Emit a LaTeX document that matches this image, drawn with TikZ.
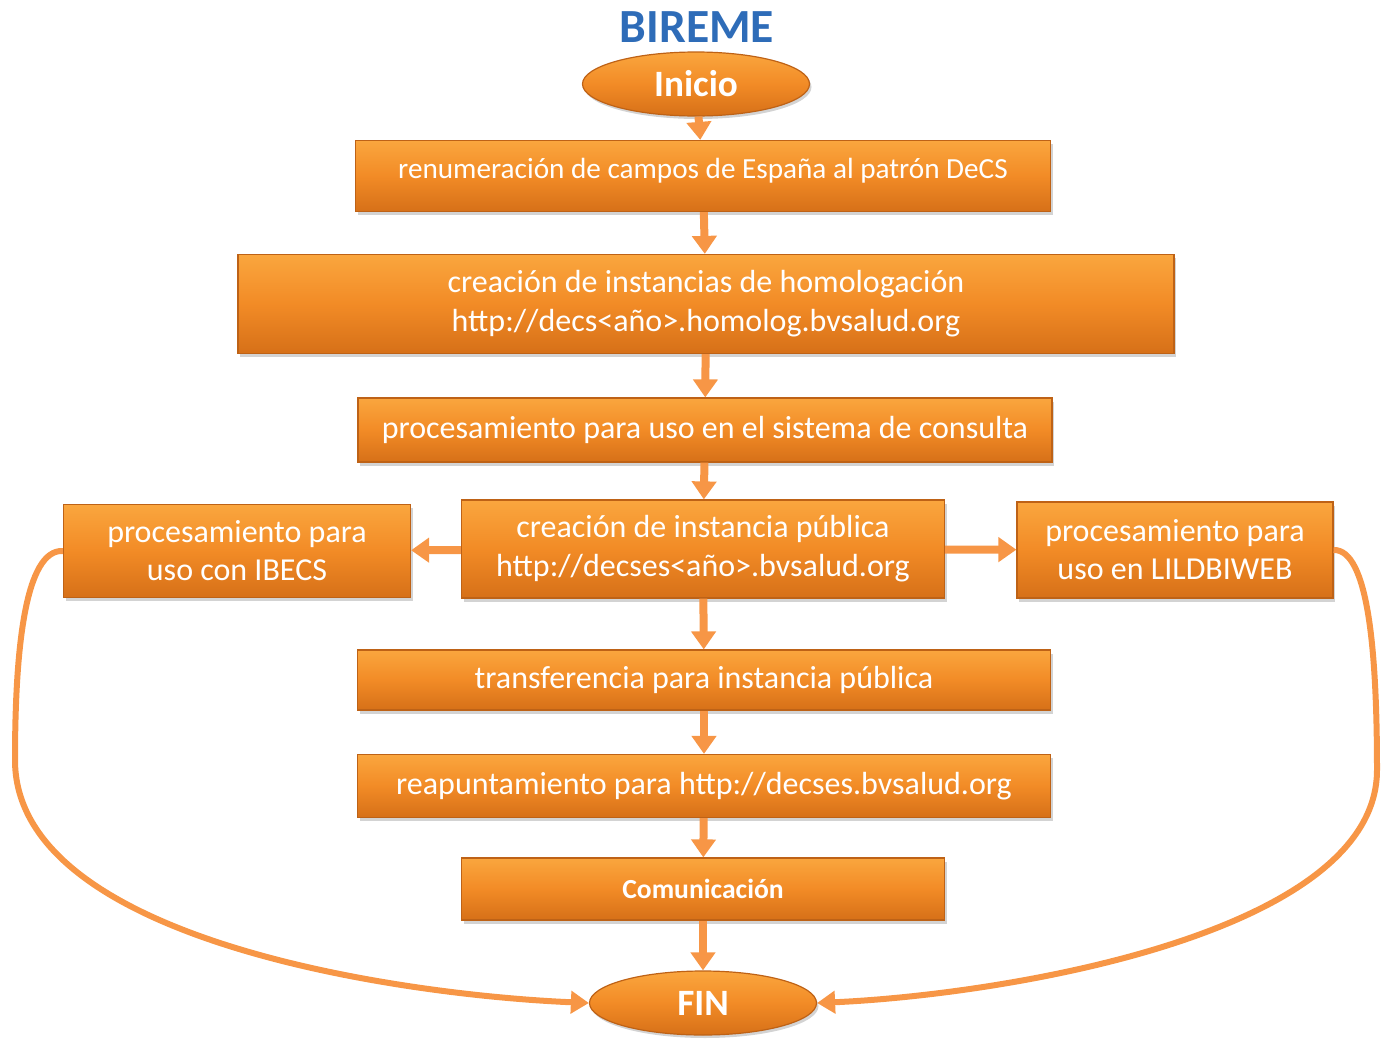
\documentclass[tikz,border=0pt]{standalone}
\usepackage{fontspec}
\setmainfont{Carlito}
\usetikzlibrary{shapes.geometric, arrows.meta, shadows}
\definecolor{orTop}{RGB}{250,166,62}
\definecolor{orMid}{RGB}{242,139,38}
\definecolor{orBot}{RGB}{214,112,24}
\definecolor{orLine}{RGB}{190,98,22}
\definecolor{orArrow}{RGB}{247,150,70}
\definecolor{birBlue}{RGB}{46,108,184}

\begin{document}
\begin{tikzpicture}[
                x=0.5pt, y=-0.5pt,
                B/.style = {rectangle, draw=orLine, line width=0.6pt,
                            top color=orTop, bottom color=orBot, middle color=orMid,
                            text=white, align=center, inner sep=0pt,
                            drop shadow={shadow xshift=1.2pt, shadow yshift=-1.8pt, opacity=0.35}},
                E/.style = {ellipse, draw=orLine, line width=0.6pt,
                            top color=orTop, bottom color=orBot, middle color=orMid,
                            text=white, inner sep=0pt,
                            minimum width=113.5pt, minimum height=32pt,
                            font=\bfseries\fontsize{18.6}{22}\selectfont,
                            drop shadow={shadow xshift=1pt, shadow yshift=-1.5pt, opacity=0.35}},
                A/.style = {draw=orArrow, line width=4pt,
                            -{Triangle[width=12pt, length=9pt]}},
                C/.style = {draw=orArrow, line width=3pt,
                            -{Triangle[width=11pt, length=9pt]}}
                    ]
                \useasboundingbox (0,0) rectangle (1383,1039);
                % cabecera
                \node (tit) at (697,27) [text=birBlue, font=\bfseries\fontsize{23.8}{26}\selectfont] {BIREME};
                \node[E] (ini) at (696,84) {Inicio};
                % pasos
                \begin{scope}[nodes=B]
                \node (1) at (703,176) [minimum width=347.5pt, minimum height=35.5pt,
                    text depth=7.5pt, font=\fontsize{14.6}{17}\selectfont]
                    {renumeración de campos de España al patrón DeCS};
                \node (2) at (706,304) [minimum width=468pt, minimum height=49.5pt,
                    font=\fontsize{16}{19.5}\selectfont]
                    {creación de instancias de homologación\\http://decs<año>.homolog.bvsalud.org};
                \node (3) at (705,430) [minimum width=347pt, minimum height=32pt,
                    font=\fontsize{16}{18}\selectfont]
                    {procesamiento para uso en el sistema de consulta};
                \node (4) at (703,549) [minimum width=241.5pt, minimum height=49pt,
                    font=\fontsize{16}{19.5}\selectfont]
                    {creación de instancia pública\\http://decses<año>.bvsalud.org};
                \node (4l) at (237,551) [minimum width=173.5pt, minimum height=46.5pt,
                    font=\fontsize{16}{19}\selectfont]
                    {procesamiento para\\uso con IBECS};
                \node (4r) at (1175,550) [minimum width=158pt, minimum height=48pt,
                    font=\fontsize{16}{19}\selectfont]
                    {procesamiento para\\uso en LILDBIWEB};
                \node (5) at (704,680) [minimum width=346.5pt, minimum height=30pt,
                    font=\fontsize{16}{18}\selectfont]
                    {transferencia para instancia pública};
                \node (6) at (704,786) [minimum width=346.5pt, minimum height=31.5pt,
                    font=\fontsize{16}{18}\selectfont]
                    {reapuntamiento para http://decses.bvsalud.org};
                \node (7) at (703,889) [minimum width=241.5pt, minimum height=31pt,
                    font=\bfseries\fontsize{13.8}{16}\selectfont]
                    {Comunicación};
                \end{scope}
                \node[E] (fin) at (703,1003) {FIN};
                % flechas
                \draw[A] (ini) to (1);
                \draw[A] (1) to (2);
                \draw[A] (2) to (3);
                \draw[A] (3) to (4);
                \draw[A] (4) to (4l);
                \draw[A] (4) to (4r);
                \draw[A] (4) to (5);
                \draw[A] (5) to (6);
                \draw[A] (6) to (7);
                \draw[A] (7) to (fin);
                \draw[C] (4l.west) .. controls (25,549) and (15,650) .. (15,760)
                         .. controls (15,940) and (400,995) .. (fin.west);
                \draw[C] (4r.east) .. controls (1368,549) and (1377,650) .. (1377,770)
                         .. controls (1377,935) and (1000,995) .. (fin.east);
            \end{tikzpicture}
\end{document}
